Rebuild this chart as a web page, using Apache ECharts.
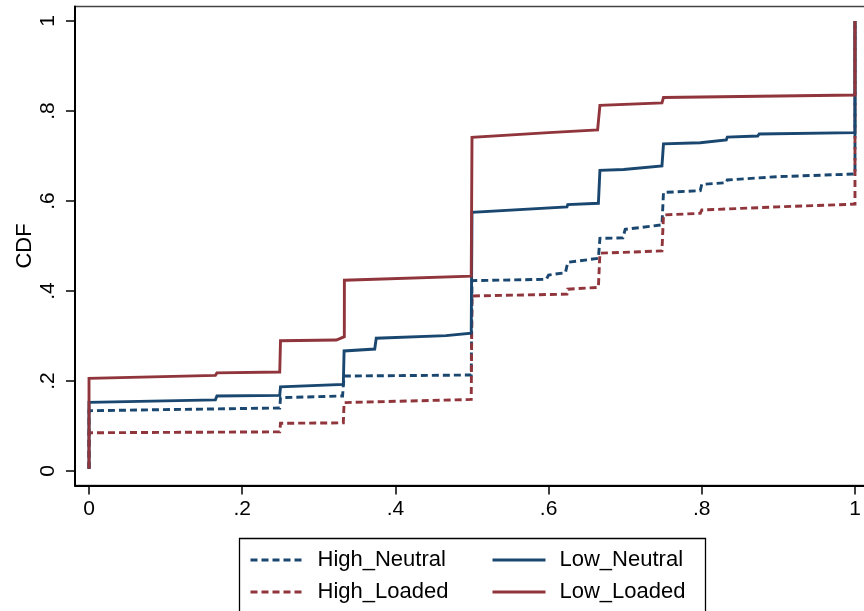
<!DOCTYPE html>
<html>
<head>
<meta charset="utf-8">
<script src="https://cdn.jsdelivr.net/npm/echarts@6/dist/echarts.min.js"></script>
<style>html,body{margin:0;padding:0;background:#fff}#c{width:864px;height:611px}</style>
</head>
<body>
<div id="c"></div>
<script>
// ---- data ----
const xTickValues = [0, 0.2, 0.4, 0.6, 0.8, 1];
const xTickLabels = ["0", ".2", ".4", ".6", ".8", "1"];
const yTickValues = [0, 0.2, 0.4, 0.6, 0.8, 1];
const yTickLabels = ["0", ".2", ".4", ".6", ".8", "1"];

const highNeutralX = [0, 0, 0.249, 0.25, 0.331, 0.333, 0.499, 0.5, 0.597, 0.6, 0.622, 0.625, 0.665, 0.667, 0.697, 0.7, 0.748, 0.75, 0.798, 0.8, 0.832, 0.8333, 0.898, 0.9, 1, 1];
const highNeutralY = [0.005, 0.134, 0.14, 0.163, 0.1667, 0.211, 0.2133, 0.423, 0.426, 0.4356, 0.4407, 0.4637, 0.4726, 0.517, 0.518, 0.537, 0.547, 0.619, 0.623, 0.637, 0.6407, 0.6467, 0.654, 0.658, 0.66, 1];

const highLoadedX = [0, 0, 0.249, 0.25, 0.332, 0.333, 0.499, 0.5, 0.624, 0.625, 0.665, 0.667, 0.748, 0.75, 0.798, 0.8, 0.9, 0.902, 1, 1];
const highLoadedY = [0.005, 0.085, 0.087, 0.106, 0.107, 0.152, 0.159, 0.389, 0.393, 0.404, 0.408, 0.484, 0.489, 0.569, 0.5726, 0.58, 0.587, 0.591, 0.593, 1];

const lowNeutralX = [0, 0, 0.165, 0.167, 0.249, 0.25, 0.332, 0.333, 0.373, 0.375, 0.466, 0.468, 0.499, 0.5, 0.624, 0.625, 0.665, 0.667, 0.698, 0.7, 0.748, 0.75, 0.798, 0.8, 0.832, 0.8333, 0.873, 0.875, 1, 1];
const lowNeutralY = [0.005, 0.1526, 0.158, 0.1667, 0.168, 0.187, 0.1926, 0.2667, 0.271, 0.295, 0.3008, 0.304, 0.306, 0.575, 0.587, 0.592, 0.595, 0.668, 0.67, 0.674, 0.678, 0.727, 0.7296, 0.7333, 0.7356, 0.742, 0.7444, 0.749, 0.752, 1];

const lowLoadedX = [0, 0, 0.165, 0.167, 0.249, 0.25, 0.323, 0.3333, 0.3334, 0.499, 0.5, 0.6, 0.664, 0.667, 0.748, 0.75, 1, 1];
const lowLoadedY = [0.005, 0.206, 0.2126, 0.218, 0.22, 0.2896, 0.291, 0.2985, 0.424, 0.433, 0.7415, 0.752, 0.758, 0.8126, 0.818, 0.83, 0.8356, 1];

const seriesNames = ["High_Neutral", "High_Loaded", "Low_Neutral", "Low_Loaded"];
// ---------------------------------------

const NAVY = "#1a476f", MAROON = "#90353b";
const FONT = "'Liberation Sans', Arial, Helvetica, sans-serif";
const zip = (xs, ys) => xs.map((x, i) => [x, ys[i]]);
const lab = (vals, labs) => v => { const i = vals.findIndex(t => Math.abs(t - v) < 1e-6); return i >= 0 ? labs[i] : ""; };

const chart = echarts.init(document.getElementById('c'), null, {renderer: 'canvas'});
const mk = (name, xs, ys, color, dashed) => ({
  name, type: 'line', data: zip(xs, ys), symbol: 'none', animation: false,
  lineStyle: {color, width: 2.9, type: dashed ? [7, 4] : 'solid', cap: 'butt', join: 'miter'},
  itemStyle: {color}
});
const legendBase = {left: 249, top: 549, orient: 'vertical', itemWidth: 53, itemHeight: 14, itemGap: 10, padding: 0,
  itemStyle: {opacity: 0},
  lineStyle: {width: 3},
  textStyle: {fontSize: 22, color: '#000', fontFamily: FONT, padding: [0, 0, 0, 9]}};

chart.setOption({
  backgroundColor: '#fff',
  animation: false,
  textStyle: {fontFamily: FONT},
  grid: {left: 75, right: -5, top: 6.6, bottom: 125.6, containLabel: false, outerBoundsMode: 'none',
         show: true, borderColor: '#444', borderWidth: 1.5, backgroundColor: '#fff'},
  xAxis: {
    type: 'value', min: -0.0183, max: 1.0183,
    splitLine: {show: false},
    axisLine: {show: true, onZero: false, lineStyle: {color: '#000', width: 2}},
    axisTick: {show: true, length: 9, customValues: xTickValues, lineStyle: {color: '#000', width: 1.5}},
    axisLabel: {customValues: xTickValues, formatter: lab(xTickValues, xTickLabels), fontSize: 21, color: '#000', margin: 13, fontFamily: FONT}
  },
  yAxis: {
    type: 'value', min: -0.032, max: 1.032,
    name: 'CDF', nameLocation: 'middle', nameGap: 39, nameMoveOverlap: false,
    nameTextStyle: {fontSize: 22, color: '#000', fontFamily: FONT},
    splitLine: {show: false},
    axisLine: {show: true, onZero: false, lineStyle: {color: '#000', width: 2}},
    axisTick: {show: true, length: 9, customValues: yTickValues, lineStyle: {color: '#000', width: 1.5}},
    axisLabel: {customValues: yTickValues, formatter: lab(yTickValues, yTickLabels), rotate: 90, fontSize: 21, color: '#000', margin: 16, fontFamily: FONT}
  },
  legend: [
    Object.assign({}, legendBase, {data: [seriesNames[0], seriesNames[1]], left: 249}),
    Object.assign({}, legendBase, {data: [seriesNames[2], seriesNames[3]], left: 491})
  ],
  graphic: [{type: 'rect', silent: true, z: 0,
    shape: {x: 239.5, y: 538.5, width: 466, height: 100},
    style: {fill: 'none', stroke: '#000', lineWidth: 1.3}}],
  series: [
    mk(seriesNames[0], highNeutralX, highNeutralY, NAVY, true),
    mk(seriesNames[1], highLoadedX, highLoadedY, MAROON, true),
    mk(seriesNames[2], lowNeutralX, lowNeutralY, NAVY, false),
    mk(seriesNames[3], lowLoadedX, lowLoadedY, MAROON, false)
  ]
});
</script>
</body>
</html>
